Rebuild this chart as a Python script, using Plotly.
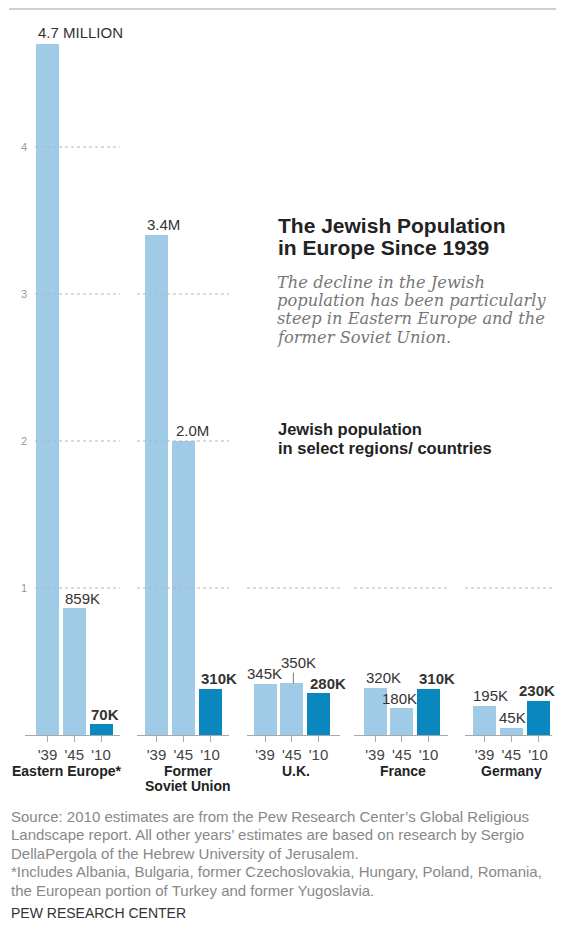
import plotly.graph_objects as go

# ---------------- data ----------------
groups = ["Eastern Europe*", "Former<br>Soviet Union", "U.K.", "France", "Germany"]
years = ["'39", "'45", "'10"]
pop_1939 = [4.7, 3.4, 0.345, 0.32, 0.195]   # millions
pop_1945 = [0.859, 2.0, 0.35, 0.18, 0.045]
pop_2010 = [0.07, 0.31, 0.28, 0.31, 0.23]
labels_1939 = ["4.7 MILLION", "3.4M", "345K", "320K", "195K"]
labels_1945 = ["859K", "2.0M", "350K", "180K", "45K"]
labels_2010 = ["70K", "310K", "280K", "310K", "230K"]
y_ticks = [1, 2, 3, 4]

title_lines = ["The Jewish Population", "in Europe Since 1939"]
subtitle_lines = ["The decline in the Jewish", "population has been particularly",
                  "steep in Eastern Europe and the", "former Soviet Union."]
legend_lines = ["Jewish population", "in select regions/ countries"]
source_lines = [
    "Source: 2010 estimates are from the Pew Research Center\u2019s Global Religious",
    "Landscape report. All other years\u2019 estimates are based on research by Sergio",
    "DellaPergola of the Hebrew University of Jerusalem.",
    "*Includes Albania, Bulgaria, former Czechoslovakia, Hungary, Poland, Romania,",
    "the European portion of Turkey and former Yugoslavia.",
]
credit = "PEW RESEARCH CENTER"

# ---------------- layout helpers (window pixels) ----------------
OFF = 8                       # page body margin
W, H = 564 - 2 * OFF, 934 - 2 * OFF
def fx(px):
    return (px - OFF) / W
def fy(py):
    return 1 - (py - OFF) / H

SANS = "Liberation Sans, Arial, sans-serif"
SERIF = "DejaVu Serif, Georgia, serif"
LIGHT = "#9fcbe7"
DARK = "#0a87bf"

PPU = 147.0            # pixels per million
Y0 = 735.0             # baseline pixel
YMAX = 4.8
PITCH = 26.75
BAR_W = 23.0

g_left = [25, 137, 247, 354, 465]
g_right = [120, 229, 340, 448, 552]
g_grid_left = [35, 137, 247, 354, 465]
g_first = [47.5, 156.5, 265, 375, 484.5]
grid_levels = [[1, 2, 3, 4], [1, 2, 3], [1], [1], [1]]
label_x_pos = [67, 188, 296, 403, 511]

# label offsets (xshift, yshift extra) per group / year
lab_off = {(2, 0): (-9, 0), (2, 1): (-1, 11), (3, 1): (-10, 0), (4, 0): (-2, 0),
           (4, 1): (-3, 0), (1, 1): (2, 0), (0, 0): (0, 1), (0, 2): (-1, 0), (2, 2): (1, 0),
           (4, 2): (-10, 0)}

fig = go.Figure()
layout = dict(
    width=W, height=H, margin=dict(l=0, r=0, t=0, b=0),
    paper_bgcolor="white", plot_bgcolor="white", showlegend=False,
    font=dict(family=SANS, color="#333"),
    yaxis=dict(domain=[fy(Y0), fy(Y0 - YMAX * PPU)], range=[0, YMAX],
               showgrid=False, zeroline=False, showticklabels=False, fixedrange=True),
    bargap=0,
)
annotations = []
shapes = []

series = [pop_1939, pop_1945, pop_2010]
labels = [labels_1939, labels_1945, labels_2010]

for i, g in enumerate(groups):
    ax = "x" if i == 0 else f"x{i+1}"
    axkey = "xaxis" if i == 0 else f"xaxis{i+1}"
    vals = [series[j][i] for j in range(3)]
    fig.add_trace(go.Bar(
        x=years, y=vals, width=BAR_W / PITCH,
        marker=dict(color=[LIGHT, LIGHT, DARK], line=dict(width=0)),
        xaxis=ax, yaxis="y", hoverinfo="x+y",
    ))
    lo = -(g_first[i] - g_left[i]) / PITCH
    hi = lo + (g_right[i] - g_left[i]) / PITCH
    layout[axkey] = dict(
        domain=[fx(g_left[i]), fx(g_right[i])], anchor="y", type="category",
        categoryorder="array", categoryarray=years, range=[lo, hi],
        showline=True, linecolor="#a8a8a8", linewidth=1,
        ticks="outside", ticklen=6, tickcolor="#a8a8a8", tickwidth=1,
        tickfont=dict(family=SANS, size=15, color="#444"),
        showgrid=False, zeroline=False, fixedrange=True,
    )
    # bar value labels
    for j in range(3):
        dx, dy = lab_off.get((i, j), (0, 0))
        txt = labels[j][i]
        if j == 2:
            txt = "<b>" + txt + "</b>"
        annotations.append(dict(
            x=years[j], y=series[j][i], xref=ax, yref="y",
            text=txt, showarrow=False, xanchor="left", yanchor="middle",
            xshift=-BAR_W / 2 + dx, yshift=10.5 + dy,
            font=dict(family=SANS, size=15, color="#333"),
        ))
    # dotted gridlines
    for lv in grid_levels[i]:
        shapes.append(dict(type="line", xref="paper", yref="y",
                           x0=fx(g_grid_left[i]), x1=fx(g_right[i]), y0=lv, y1=lv,
                           line=dict(color="#b5b5b5", width=1, dash="dot"), layer="above"))
    # group label
    for k, line in enumerate(g.split("<br>")):
        annotations.append(dict(
            x=fx(label_x_pos[i]), y=fy(771 + 15 * k), xref="paper", yref="paper",
            text="<b>" + line + "</b>", showarrow=False, xanchor="center", yanchor="middle",
            font=dict(family=SANS, size=14, color="#222"),
        ))

# leader line for UK 1945 label
shapes.append(dict(type="line", xref="x3", yref="y", x0=1.06, x1=1.06,
                   y0=pop_1945[2], y1=pop_1945[2] + 11 / PPU,
                   line=dict(color="#777", width=1)))

# y tick labels
for t in y_ticks:
    annotations.append(dict(x=fx(24), y=t, xref="paper", yref="y", text=str(t),
                            showarrow=False, xanchor="center", yanchor="middle",
                            font=dict(family=SANS, size=11, color="#999")))

# top rule
shapes.append(dict(type="line", xref="paper", yref="paper", x0=fx(9), x1=1,
                   y0=fy(9), y1=fy(9), line=dict(color="#cfcfcf", width=2)))

# title, subtitle, legend text
for k, line in enumerate(title_lines):
    annotations.append(dict(x=fx(276), y=fy(225 + 22 * k), xref="paper", yref="paper",
                            text="<b>" + line + "</b>", showarrow=False, xanchor="left",
                            yanchor="middle", font=dict(family=SANS, size=21, color="#222")))
for k, line in enumerate(subtitle_lines):
    annotations.append(dict(x=fx(275), y=fy(282 + 18.4 * k), xref="paper", yref="paper",
                            text="<i>" + line + "</i>", showarrow=False, xanchor="left",
                            yanchor="middle", font=dict(family=SERIF, size=16.3, color="#777")))
for k, line in enumerate(legend_lines):
    annotations.append(dict(x=fx(276), y=fy(429 + 19 * k), xref="paper", yref="paper",
                            text="<b>" + line + "</b>", showarrow=False, xanchor="left",
                            yanchor="middle", font=dict(family=SANS, size=16.5, color="#222")))

# footer
for k, line in enumerate(source_lines):
    annotations.append(dict(x=fx(9), y=fy(816 + 18.5 * k), xref="paper", yref="paper",
                            text=line, showarrow=False, xanchor="left", yanchor="middle",
                            font=dict(family=SANS, size=15, color="#888")))
annotations.append(dict(x=fx(9), y=fy(913), xref="paper", yref="paper", text=credit,
                        showarrow=False, xanchor="left", yanchor="middle",
                        font=dict(family=SANS, size=14, color="#333")))

layout["annotations"] = annotations
layout["shapes"] = shapes
fig.update_layout(**layout)
fig.write_html("out.html")
